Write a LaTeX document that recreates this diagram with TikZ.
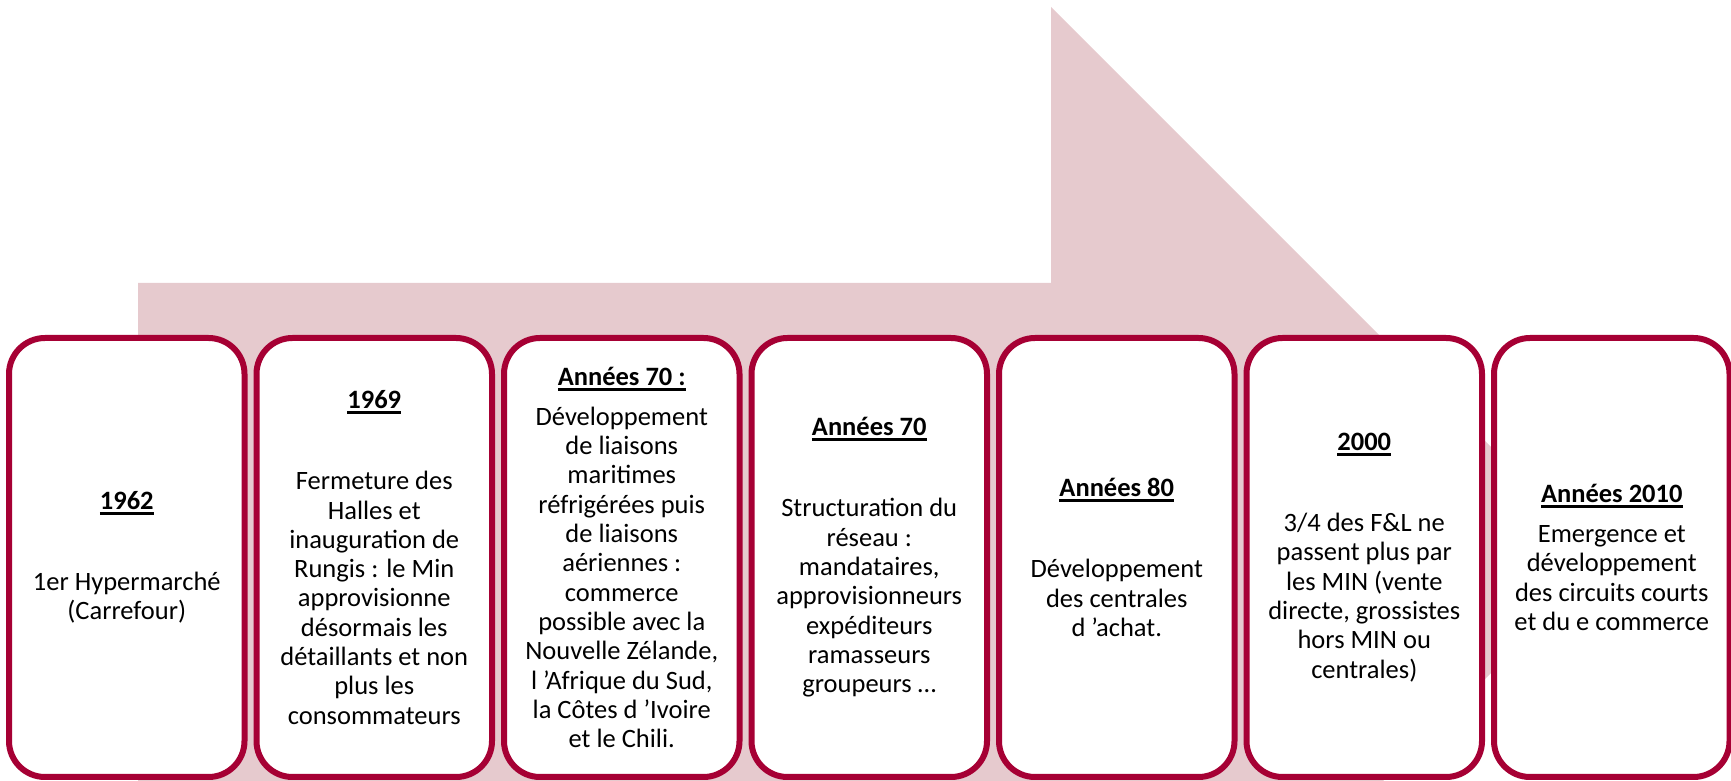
\documentclass[tikz,border=0pt]{standalone}
\usepackage{fontspec}
\setmainfont{Carlito}
\usetikzlibrary{positioning}

\definecolor{bordeaux}{RGB}{166,0,52}
\definecolor{rosepale}{RGB}{230,202,206}
\newsavebox{\yrbox}
\newcommand{\yr}[1]{\textbf{\sbox{\yrbox}{#1}\rlap{\rule[-5.2pt]{\wd\yrbox}{2.7pt}}\usebox{\yrbox}}}

\begin{document}
\begin{tikzpicture}[x=1pt, y=1pt,
    % Define styles
    period/.style={rectangle, draw=bordeaux, line width=6pt, rounded corners=36pt, fill=white, minimum width=235.5pt, minimum height=439pt, inner sep=0pt, outer sep=0pt, align=center, font=\fontsize{26.5pt}{29.3pt}\selectfont},
    band/.style={fill=rosepale, draw=none}
  ]
  \useasboundingbox (0,0) rectangle (1731,781);
  \clip (0,0) rectangle (1731,781);

  % Background arrow
  \fill[band] (138,498) -- (1051,498) -- (1051,774) -- (1604,221) -- (1051,-332) -- (1051,-56) -- (138,-56) -- cycle;

  % Periods
  \node[period] (p1962) at (126.75,223.5) {\yr{1962}\\[51.7pt]1er Hypermarché\\(Carrefour)};
  \node[period, right=12pt of p1962] (p1969) {\yr{1969}\\[51.7pt]Fermeture des\\Halles et\\inauguration de\\Rungis : le Min\\approvisionne\\désormais les\\détaillants et non\\plus les\\consommateurs};
  \node[period, right=12pt of p1969] (p70a) {\yr{Années 70 :}\\[10.7pt]Développement\\de liaisons\\maritimes\\réfrigérées puis\\de liaisons\\aériennes :\\commerce\\possible avec la\\Nouvelle Zélande,\\l ’Afrique du Sud,\\la Côtes d ’Ivoire\\et le Chili.};
  \node[period, right=12pt of p70a] (p70b) {\yr{Années 70}\\[51.7pt]Structuration du\\réseau :\\mandataires,\\approvisionneurs\\expéditeurs\\ramasseurs\\groupeurs …};
  \node[period, right=12pt of p70b] (p80) {\yr{Années 80}\\[51.7pt]Développement\\des centrales\\d ’achat.};
  \node[period, right=12pt of p80] (p2000) {\yr{2000}\\[51.7pt]3/4 des F\&L ne\\passent plus par\\les MIN (vente\\directe, grossistes\\hors MIN ou\\centrales)};
  \node[period, right=12pt of p2000] (p2010) {\yr{Années 2010}\\[10.7pt]Emergence et\\développement\\des circuits courts\\et du e commerce};

\end{tikzpicture}
\end{document}
